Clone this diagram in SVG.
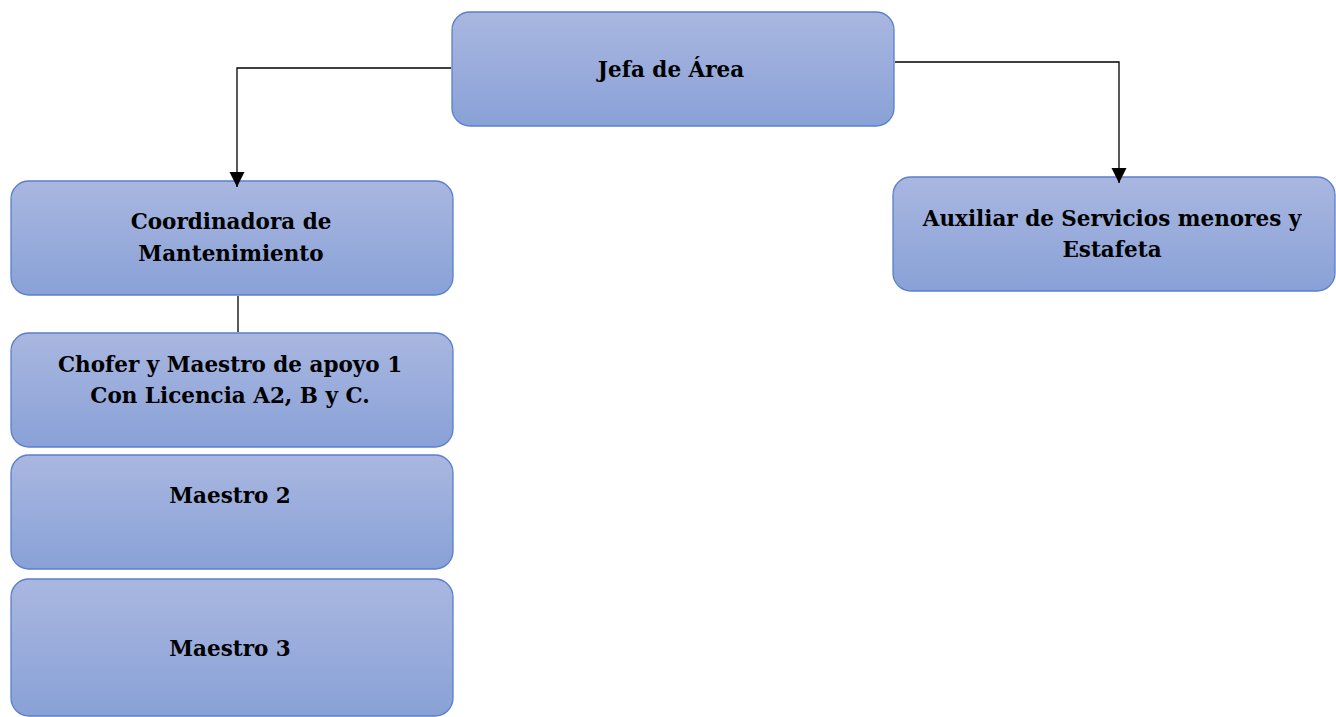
<svg xmlns="http://www.w3.org/2000/svg" width="1336" height="717" viewBox="0 0 1336 717">
<defs>
<linearGradient id="g" x1="0" y1="0" x2="0" y2="1">
<stop offset="0" stop-color="#a9b7e0"/>
<stop offset="1" stop-color="#89a1d7"/>
</linearGradient>
<marker id="arr" markerWidth="16" markerHeight="16" refX="15" refY="7.5" orient="auto" markerUnits="userSpaceOnUse">
<path d="M0,0 L15,7.5 L0,15 Z" fill="#000"/>
</marker>
</defs>
<style>
.box{fill:url(#g);stroke:#5a7fcc;stroke-width:1.3}
.t{font-family:"DejaVu Serif","Liberation Serif",serif;font-weight:bold;font-size:21.5px;fill:#000;text-anchor:middle}
.c{fill:none;stroke:#000;stroke-width:1.3}
</style>
<rect width="1336" height="717" fill="#fff"/>
<g id="jefa">
<rect class="box" x="452" y="12" width="442" height="114" rx="18"/>
<text class="t" x="671" y="77">Jefa de Área</text>
</g>
<g id="coordinadora">
<rect class="box" x="11" y="181" width="442" height="114" rx="18"/>
<text class="t" x="231" y="229">Coordinadora de</text>
<text class="t" x="231" y="261">Mantenimiento</text>
</g>
<g id="chofer">
<rect class="box" x="11" y="333" width="442" height="114" rx="18"/>
<text class="t" x="230" y="372">Chofer y Maestro de apoyo 1</text>
<text class="t" x="230" y="403">Con Licencia A2, B y C.</text>
</g>
<g id="maestro2">
<rect class="box" x="11" y="455" width="442" height="114" rx="18"/>
<text class="t" x="230" y="503">Maestro 2</text>
</g>
<g id="maestro3">
<rect class="box" x="11" y="579" width="442" height="137" rx="18"/>
<text class="t" x="230" y="656">Maestro 3</text>
</g>
<g id="auxiliar">
<rect class="box" x="893" y="177" width="442" height="114" rx="18"/>
<text class="t" x="1112" y="226">Auxiliar de Servicios menores y</text>
<text class="t" x="1112" y="257">Estafeta</text>
</g>
<g id="connectors">
<path class="c" d="M451,68 H237 V187" marker-end="url(#arr)"/>
<path class="c" d="M895,62 H1119 V183" marker-end="url(#arr)"/>
<path class="c" d="M238,296 V332"/>
</g>
</svg>
